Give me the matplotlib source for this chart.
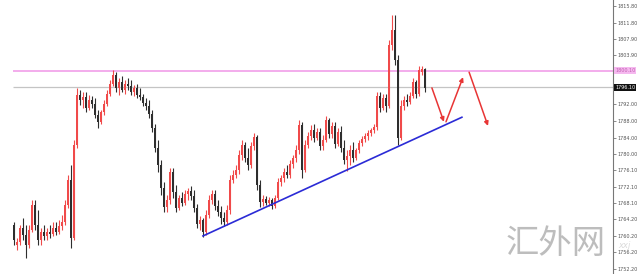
import matplotlib
matplotlib.use("Agg")
import matplotlib.pyplot as plt
import numpy as np

# ---- data (prices) ----
opens = [1762.8,1758.0,1758.7,1762.1,1760.4,1758.0,1761.6,1767.7,1762.8,1759.2,
         1761.2,1760.2,1761.2,1760.7,1762.1,1761.2,1762.6,1763.6,1767.7,1773.7,
         1759.7,1782.2,1794.3,1793.1,1793.8,1791.1,1793.1,1792.1,1789.4,1787.8,
         1790.2,1792.1,1794.5,1796.9,1799.1,1796.0,1797.4,1795.5,1796.9,1796.5,
         1795.0,1796.0,1794.3,1793.8,1792.3,1791.6,1789.7,1786.3,1781.5,1777.4,
         1771.8,1767.2,1768.9,1775.7,1770.8,1767.0,1769.4,1768.2,1770.3,1771.1,
         1769.9,1767.0,1763.1,1764.1,1761.2,1765.3,1768.9,1770.3,1767.4,1766.0,
         1764.5,1763.6,1766.5,1773.7,1774.9,1776.1,1779.8,1782.2,1779.0,1777.4,
         1781.9,1784.1,1772.5,1768.4,1769.1,1768.2,1768.9,1767.4,1769.4,1773.2,
         1774.2,1775.7,1774.9,1777.6,1779.0,1781.0,1787.0,1776.1,1782.2,1784.4,
         1785.8,1783.9,1785.3,1781.9,1783.4,1788.2,1784.9,1786.8,1782.4,1785.3,
         1781.5,1778.6,1779.5,1781.0,1779.0,1781.0,1782.7,1783.6,1784.4,1785.1,
         1785.8,1786.5,1794.0,1791.1,1793.6,1791.6,1806.4,1810.0,1802.7,1783.9,
         1791.6,1793.1,1792.6,1794.0,1797.4,1794.5,1799.8,1800.6]
highs = [1763.6,1759.7,1762.8,1764.5,1762.8,1762.8,1768.9,1768.9,1766.5,1762.1,
         1762.8,1762.1,1762.8,1763.6,1763.6,1764.1,1765.3,1768.9,1774.9,1777.4,
         1783.4,1796.0,1795.5,1795.0,1795.0,1794.3,1794.0,1793.6,1790.7,1790.7,
         1793.1,1795.5,1797.9,1800.3,1799.8,1798.4,1798.9,1797.9,1798.4,1797.9,
         1796.7,1796.9,1796.0,1794.5,1793.6,1793.1,1790.7,1787.3,1783.4,1778.6,
         1773.2,1770.1,1776.6,1776.6,1772.5,1770.1,1770.8,1771.3,1771.8,1772.3,
         1771.3,1767.9,1765.0,1764.5,1766.5,1770.1,1771.3,1771.3,1768.9,1767.4,
         1766.0,1767.7,1774.9,1776.1,1777.4,1781.0,1783.4,1782.9,1781.5,1782.9,
         1785.1,1784.6,1773.7,1770.1,1769.9,1769.6,1769.4,1770.1,1774.2,1774.9,
         1776.6,1777.4,1778.6,1779.8,1782.2,1788.2,1787.8,1783.4,1785.3,1787.0,
         1787.3,1786.3,1786.3,1784.6,1789.2,1788.7,1787.8,1787.8,1786.3,1786.8,
         1783.4,1781.0,1782.2,1782.9,1781.5,1783.4,1784.4,1785.1,1785.8,1786.3,
         1787.3,1795.0,1795.0,1794.5,1794.5,1807.6,1813.6,1813.6,1804.0,1793.1,
         1794.0,1794.5,1795.0,1798.4,1797.9,1801.3,1801.3,1800.8]
lows = [1758.0,1756.8,1758.0,1759.2,1754.9,1757.3,1761.2,1761.6,1758.0,1758.0,
        1759.2,1759.2,1759.7,1760.2,1760.4,1760.7,1761.6,1762.8,1767.0,1757.3,
        1759.2,1781.5,1791.9,1791.1,1790.2,1790.7,1791.1,1788.7,1786.3,1787.3,
        1789.4,1791.6,1794.0,1796.5,1795.0,1794.3,1795.0,1794.5,1795.5,1794.3,
        1794.0,1793.6,1793.1,1791.6,1790.7,1788.7,1785.3,1780.5,1775.7,1770.1,
        1766.0,1766.0,1767.9,1769.4,1766.0,1766.5,1767.4,1767.7,1768.9,1768.9,
        1766.0,1762.1,1761.6,1759.9,1760.4,1764.5,1767.9,1766.5,1765.0,1763.1,
        1762.6,1762.8,1765.5,1773.0,1774.2,1775.2,1778.6,1778.1,1776.1,1776.6,
        1781.0,1771.3,1767.2,1767.4,1767.7,1767.4,1766.7,1767.0,1768.9,1772.3,
        1773.2,1774.2,1774.2,1776.6,1778.1,1780.0,1774.2,1775.7,1781.5,1783.4,
        1782.9,1783.4,1781.0,1781.0,1782.9,1783.9,1783.9,1781.5,1781.9,1780.5,
        1777.6,1775.9,1777.4,1778.1,1778.6,1780.3,1781.9,1782.9,1783.4,1784.4,
        1785.1,1785.8,1790.2,1790.7,1790.2,1791.1,1805.2,1801.5,1782.2,1783.4,
        1790.7,1791.6,1792.1,1793.6,1793.6,1794.0,1799.1,1795.0]
closes = [1759.2,1758.7,1762.1,1760.4,1758.0,1761.6,1767.7,1762.8,1759.2,1761.2,
          1760.2,1761.2,1760.7,1762.1,1761.2,1762.6,1763.6,1767.7,1773.7,1759.7,
          1782.2,1794.3,1793.1,1793.8,1791.1,1793.1,1792.1,1789.4,1787.8,1790.2,
          1792.1,1794.5,1796.9,1799.1,1796.0,1797.4,1795.5,1796.9,1796.5,1795.0,
          1796.0,1794.3,1793.8,1792.3,1791.6,1789.7,1786.3,1781.5,1777.4,1771.8,
          1767.2,1768.9,1775.7,1770.8,1767.0,1769.4,1768.2,1770.3,1771.1,1769.9,
          1767.0,1763.1,1764.1,1761.2,1765.3,1768.9,1770.3,1767.4,1766.0,1764.5,
          1763.6,1766.5,1773.7,1774.9,1776.1,1779.8,1782.2,1779.0,1777.4,1781.9,
          1784.1,1772.5,1768.4,1769.1,1768.2,1768.9,1767.4,1769.4,1773.2,1774.2,
          1775.7,1774.9,1777.6,1779.0,1781.0,1787.0,1776.1,1782.2,1784.4,1785.8,
          1783.9,1785.3,1781.9,1783.4,1788.2,1784.9,1786.8,1782.4,1785.3,1781.5,
          1778.6,1779.5,1781.0,1779.0,1781.0,1782.7,1783.6,1784.4,1785.1,1785.8,
          1786.5,1794.0,1791.1,1793.6,1791.6,1806.4,1810.0,1802.7,1783.9,1791.6,
          1793.1,1792.6,1794.0,1797.4,1794.5,1800.3,1800.6,1796.0]

tick_values = [1815.80, 1811.80, 1807.90, 1803.90, 1799.90, 1796.00, 1792.00,
               1788.00, 1784.00, 1780.00, 1776.10, 1772.10, 1768.10, 1764.20,
               1760.20, 1756.20, 1752.20]
resistance_level = 1800.10
current_price = 1796.10
current_label = "1796.10"
resistance_label = "1800.10"

# trend line (bar index, price) and projected path arrows
trend_x = [63, 149.3]
trend_y = [1760.2, 1788.9]
arrow_paths = [((139.3, 1796.0), (143.3, 1787.8)),
               ((144.0, 1787.8), (149.7, 1798.6)),
               ((151.7, 1799.8), (158.0, 1786.8))]
watermark = "汇外网"

# ---- drawing ----
plt.rcParams['font.family'] = ['DejaVu Sans']
W, H = 638, 274
fig = plt.figure(figsize=(W / 100, H / 100), dpi=100)
fig.patch.set_facecolor('white')

# watermark
fig.text(556 / W, 1 - 243 / H, watermark, fontsize=24, color='#bdbdbd',
         family=['Noto Sans CJK SC', 'DejaVu Sans'], fontweight='light',
         ha='center', va='center', zorder=0)
fig.text(624 / W, 1 - 245 / H, "xxj", fontsize=6, color='#dadada',
         style='italic', ha='center', va='center', zorder=0)

ax = fig.add_axes([0, 0, 613 / W, 1])
ax.patch.set_alpha(0)
n = len(closes)
idx = np.arange(n)
xmin = -14 / 3
xmax = xmin + 613 / 3
ax.set_xlim(xmin, xmax)
ymax = 1817.25
ymin = ymax - 274 * 0.2418
ax.set_ylim(ymin, ymax)

o = np.array(opens); c = np.array(closes)
h = np.array(highs); l = np.array(lows)
up = c >= o
cols = np.where(up, '#f04a4a', '#2e2e2e')

# reference lines
ax.hlines(resistance_level, -0.4, xmax, color='#f2a6ea', lw=1.3, zorder=1)
ax.hlines(current_price, -0.4, xmax, color='#c4c4c4', lw=0.9, zorder=1)

ax.vlines(idx, l, h, colors=cols, lw=0.8, zorder=3)
bottoms = np.minimum(o, c)
heights = np.maximum(np.abs(c - o), 0.25)
ax.bar(idx, heights, bottom=bottoms, width=0.7, color=cols, lw=0, zorder=3)

ax.plot(trend_x, trend_y, color='#2b2bd6', lw=1.2, zorder=4)
for (x0, y0), (x1, y1) in arrow_paths:
    ax.annotate('', xy=(x1, y1), xytext=(x0, y0),
                arrowprops=dict(arrowstyle='-|>', color='#e83535', lw=1.1,
                                mutation_scale=6, shrinkA=0, shrinkB=0),
                zorder=5)

# axes styling
for s in ['top', 'left', 'bottom']:
    ax.spines[s].set_visible(False)
ax.spines['right'].set_color('#777777')
ax.spines['right'].set_linewidth(0.8)
ax.set_xticks([])
ax.yaxis.tick_right()
ax.set_yticks(tick_values)
# labels hidden under the price boxes are left blank
covered = {1799.90, 1796.00}
ax.set_yticklabels(["" if v in covered else f"{v:.2f}" for v in tick_values])
ax.tick_params(axis='y', direction='out', length=2, width=0.6,
               colors='#777777', labelsize=3.5, pad=1, labelcolor='#555555')

# price labels on the axis
ax.text(1.0035, resistance_level, resistance_label, transform=ax.get_yaxis_transform(),
        fontsize=3.5, color='#c060b0', va='center', ha='left', clip_on=False,
        bbox=dict(boxstyle='square,pad=0.2', fc='#f5b8ef', ec='none'), zorder=6)
ax.text(1.0035, current_price, current_label, transform=ax.get_yaxis_transform(),
        fontsize=3.5, color='white', va='center', ha='left', clip_on=False,
        bbox=dict(boxstyle='square,pad=0.2', fc='#111111', ec='none'), zorder=6)

fig.savefig('out.png', dpi=100, facecolor='white')
